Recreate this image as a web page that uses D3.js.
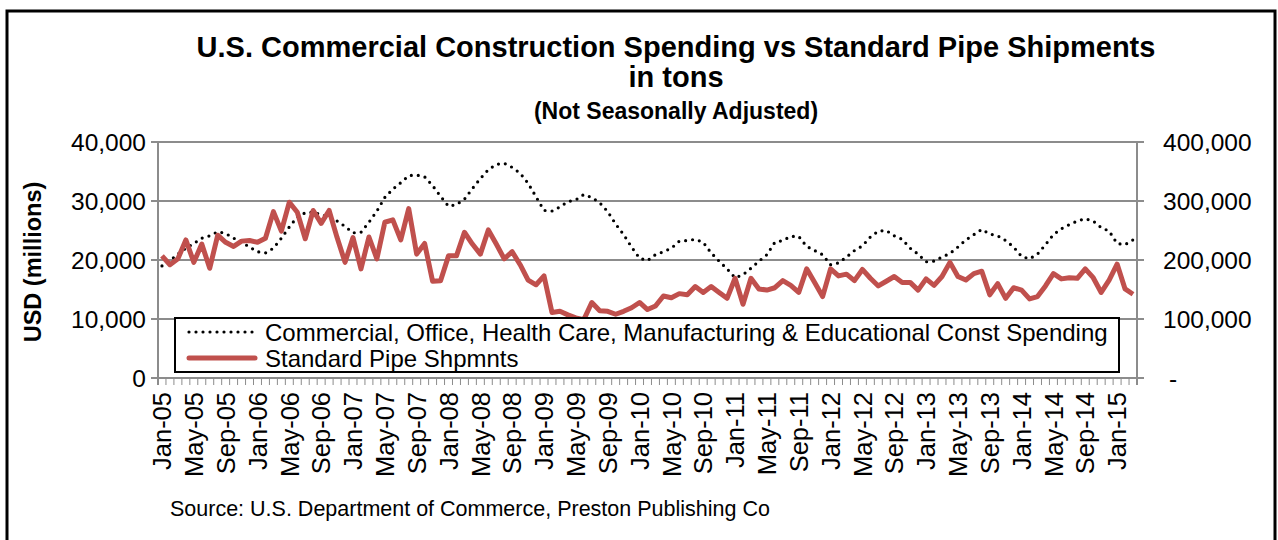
<!DOCTYPE html>
<html>
<head>
<meta charset="utf-8">
<title>Commercial construction spending vs standard pipe shipments</title>
<script src="https://d3js.org/d3.v7.min.js"></script>
<style>
    body { margin: 0; background: #fff; }
    svg { display: block; font-family: Arial, "Liberation Sans", sans-serif; }
    .grid line { stroke: #8c8c8c; stroke-width: 2; }
</style>
</head>
<body>
<svg id="chart" width="1278" height="540"></svg>
<script>
// monthly categories Jan-05 .. Mar-15
var months = d3.utcMonth.range(new Date(Date.UTC(2005, 0, 1)), new Date(Date.UTC(2015, 3, 1)))
    .map(d3.utcFormat("%b-%y"));

// Commercial, Office, Health Care, Manufacturing & Educational const spending (USD millions)
var spending = [
    19000, 19900, 21000, 22000, 22800, 23700, 24100, 24800, 24500, 23700, 23000, 22200,
    21400, 21200, 22000, 23700, 25600, 27300, 28000, 28100, 27700, 27300, 26600, 25700,
    24600, 24700, 26400, 28300, 30600, 32000, 33100, 34300, 34400, 34100, 32600, 30800,
    29100, 29400, 30300, 32100, 33800, 35300, 36200, 36400, 35700, 34700, 33000, 30700,
    28400, 28300, 29000, 29900, 30200, 31100, 30600, 29700, 28200, 26100, 24300, 22200,
    20300, 19900, 20900, 21400, 22000, 23200, 23300, 23500, 23000, 21200, 19800, 18500,
    17000, 17500, 18600, 19800, 20900, 23000, 23300, 24000, 24000, 22300, 21600, 20900,
    19200, 19500, 20500, 21600, 22400, 23900, 24900, 25000, 24100, 23500, 22000, 21000,
    19700, 19800, 20500, 21100, 22200, 23400, 24300, 25200, 24400, 24100, 23300, 22200,
    20600, 20200, 21000, 22600, 24300, 25300, 26000, 26600, 27000, 26600, 25500, 24900,
    22800, 22600, 23400
];

// Standard pipe shipments (tons)
var pipe = [
    207000, 192000, 202000, 234000, 196000, 227000, 186000, 242000, 230000, 223000, 232000, 233000,
    230000, 237000, 282000, 249000, 298000, 281000, 236000, 284000, 262000, 284000, 238000, 196000,
    238000, 185000, 239000, 202000, 264000, 268000, 234000, 287000, 210000, 228000, 164000, 165000,
    207000, 207000, 247000, 227000, 210000, 251000, 227000, 202000, 214000, 192000, 166000, 158000,
    173000, 111000, 113000, 107000, 102000, 99000, 128000, 114000, 113000, 108000, 113000, 119000,
    128000, 116000, 122000, 139000, 136000, 143000, 141000, 155000, 145000, 155000, 145000, 135000,
    169000, 125000, 169000, 151000, 149000, 153000, 165000, 157000, 145000, 185000, 162000, 138000,
    185000, 173000, 176000, 165000, 184000, 169000, 156000, 164000, 172000, 162000, 162000, 149000,
    168000, 157000, 172000, 196000, 172000, 166000, 177000, 181000, 141000, 160000, 135000, 153000,
    149000, 134000, 138000, 156000, 177000, 168000, 170000, 169000, 185000, 170000, 145000, 166000,
    193000, 151000, 142000
];

var leftTicks = [0, 10000, 20000, 30000, 40000];
var rightTicks = [0, 100000, 200000, 300000, 400000];

var titleLines = ["U.S. Commercial Construction Spending vs Standard Pipe Shipments", "in tons"];
var subTitle = "(Not Seasonally Adjusted)";
var seriesNames = ["Commercial, Office, Health Care, Manufacturing & Educational Const Spending", "Standard Pipe Shpmnts"];
var sourceText = "Source:  U.S. Department of Commerce, Preston Publishing Co";

var svg = d3.select("#chart");
var plotLeft = 158, plotRight = 1137, plotTop = 142, plotBottom = 378;

// outer frame
svg.append("rect")
    .attr("x", 7).attr("y", 11).attr("width", 1268).attr("height", 560)
    .attr("fill", "none").attr("stroke", "#000").attr("stroke-width", 3);

var x = d3.scaleBand().domain(months).range([plotLeft, plotRight]);
var y = d3.scaleLinear().domain([0, 40000]).range([plotBottom, plotTop]);
var y2 = d3.scaleLinear().domain([0, 400000]).range([plotBottom, plotTop]);

// grid lines
svg.append("g").attr("class", "grid")
    .selectAll("line").data(leftTicks.slice(1)).join("line")
    .attr("x1", plotLeft - 7).attr("x2", plotRight + 7)
    .attr("y1", d => y(d)).attr("y2", d => y(d));

// axis lines
svg.append("g").attr("class", "grid").call(g => {
    g.append("line").attr("x1", plotLeft).attr("x2", plotLeft).attr("y1", plotTop).attr("y2", plotBottom + 7);
    g.append("line").attr("x1", plotRight).attr("x2", plotRight).attr("y1", plotTop).attr("y2", plotBottom + 7);
    g.append("line").attr("x1", plotLeft - 7).attr("x2", plotRight + 7).attr("y1", plotBottom).attr("y2", plotBottom);
});

// month ticks
svg.append("g")
    .selectAll("line").data(months).join("line")
    .attr("x1", d => x(d)).attr("x2", d => x(d))
    .attr("y1", plotBottom).attr("y2", plotBottom + 7)
    .attr("stroke", "#8c8c8c").attr("stroke-width", 1);

// left axis labels
svg.append("g")
    .selectAll("text").data(leftTicks).join("text")
    .attr("x", 146).attr("y", d => y(d)).attr("dy", "0.36em")
    .attr("text-anchor", "end").attr("font-size", 24.5)
    .text(d3.format(","));

// right axis labels
svg.append("g")
    .selectAll("text").data(rightTicks).join("text")
    .attr("x", 1163).attr("y", d => y2(d)).attr("dy", "0.36em")
    .attr("font-size", 24.5)
    .text(d => d === 0 ? "-" : d3.format(",")(d))
    .attr("dx", d => d === 0 ? 6 : 0);

// x labels every 4 months
svg.append("g")
    .selectAll("text").data(months.filter((m, i) => i % 4 === 0)).join("text")
    .attr("transform", d => "translate(" + (x(d) + x.bandwidth() / 2) + "," + (plotBottom + 14) + ") rotate(-90)")
    .attr("dy", "0.36em").attr("text-anchor", "end").attr("font-size", 25.5)
    .text(d => d);

// lines
var lineSpend = d3.line().x((d, i) => x(months[i]) + x.bandwidth() / 2).y(d => y(d));
var linePipe = d3.line().x((d, i) => x(months[i]) + x.bandwidth() / 2).y(d => y2(d));

svg.append("path").datum(spending)
    .attr("d", lineSpend).attr("fill", "none")
    .attr("stroke", "#000").attr("stroke-width", 3.2)
    .attr("stroke-linecap", "round").attr("stroke-dasharray", "0,7");

svg.append("path").datum(pipe)
    .attr("d", linePipe).attr("fill", "none")
    .attr("stroke", "#c0504d").attr("stroke-width", 5)
    .attr("stroke-linejoin", "round");

// legend
var legend = svg.append("g");
legend.append("rect")
    .attr("x", 175).attr("y", 318).attr("width", 944).attr("height", 54)
    .attr("fill", "#fff").attr("stroke", "#000").attr("stroke-width", 2);
legend.append("line")
    .attr("x1", 189).attr("x2", 255).attr("y1", 332).attr("y2", 332)
    .attr("stroke", "#000").attr("stroke-width", 3.2)
    .attr("stroke-linecap", "round").attr("stroke-dasharray", "0,7");
legend.append("line")
    .attr("x1", 189).attr("x2", 255).attr("y1", 358).attr("y2", 358)
    .attr("stroke", "#c0504d").attr("stroke-width", 5).attr("stroke-linecap", "round");
legend.selectAll("text").data(seriesNames).join("text")
    .attr("x", 265).attr("y", (d, i) => 332 + i * 26).attr("dy", "0.36em")
    .attr("font-size", 24).text(d => d);

// titles
svg.selectAll(".title").data(titleLines).join("text")
    .attr("class", "title")
    .attr("x", 676).attr("y", (d, i) => 57 + i * 30)
    .attr("text-anchor", "middle").attr("font-size", 29).attr("font-weight", "bold")
    .text(d => d);
svg.append("text")
    .attr("x", 676).attr("y", 119)
    .attr("text-anchor", "middle").attr("font-size", 23).attr("font-weight", "bold")
    .text(subTitle);

// y axis title
svg.append("text")
    .attr("transform", "translate(41,262) rotate(-90)")
    .attr("text-anchor", "middle").attr("font-size", 23.5).attr("font-weight", "bold")
    .text("USD (millions)");

// source
svg.append("text")
    .attr("x", 170).attr("y", 516).attr("font-size", 21.5)
    .text(sourceText);
</script>
</body>
</html>
